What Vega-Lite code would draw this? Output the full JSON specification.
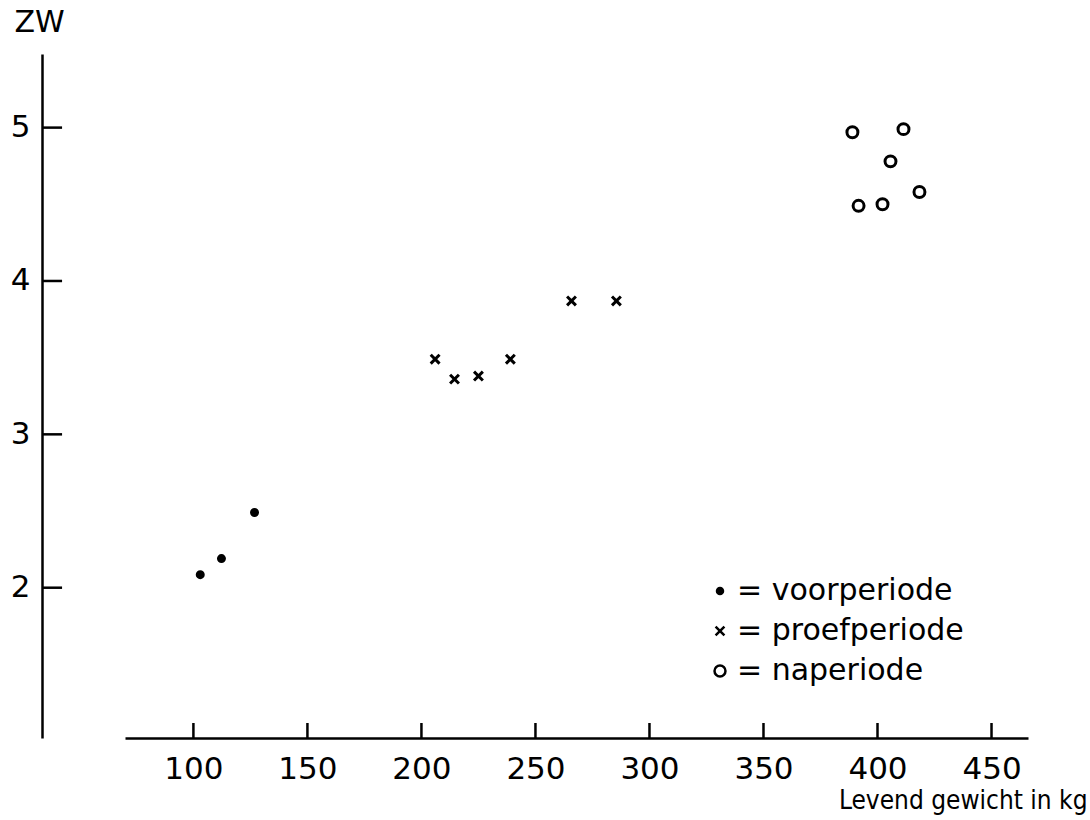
{
  "$schema": "https://vega.github.io/schema/vega-lite/v6.json",
  "width": 903,
  "height": 684,
  "autosize": "none",
  "padding": {"left": 125, "top": 54, "right": 62, "bottom": 82},
  "background": "white",
  "config": {
    "view": {"stroke": null},
    "font": "DejaVu Sans",
    "axis": {"grid": false, "ticks": false, "domainColor": "black", "domainWidth": 2.5, "labelColor": "black", "titleColor": "black", "labelFont": "DejaVu Sans", "titleFont": "DejaVu Sans", "labelFontSize": 31, "titleFontSize": 26, "titleFontWeight": "normal"}
  },
  "layer": [
    {
      "data": {"values": [
        {"gewicht": 103, "zw": 2.085, "periode": "voorperiode"},
        {"gewicht": 112.3, "zw": 2.19, "periode": "voorperiode"},
        {"gewicht": 126.8, "zw": 2.49, "periode": "voorperiode"},
        {"gewicht": 206, "zw": 3.49, "periode": "proefperiode"},
        {"gewicht": 214.5, "zw": 3.36, "periode": "proefperiode"},
        {"gewicht": 225, "zw": 3.38, "periode": "proefperiode"},
        {"gewicht": 239, "zw": 3.49, "periode": "proefperiode"},
        {"gewicht": 265.8, "zw": 3.87, "periode": "proefperiode"},
        {"gewicht": 285.5, "zw": 3.87, "periode": "proefperiode"},
        {"gewicht": 389, "zw": 4.97, "periode": "naperiode"},
        {"gewicht": 411.4, "zw": 4.99, "periode": "naperiode"},
        {"gewicht": 405.7, "zw": 4.78, "periode": "naperiode"},
        {"gewicht": 418.4, "zw": 4.58, "periode": "naperiode"},
        {"gewicht": 391.7, "zw": 4.49, "periode": "naperiode"},
        {"gewicht": 402.2, "zw": 4.5, "periode": "naperiode"}
      ]},
      "mark": {"type": "point", "stroke": "black", "strokeWidth": 3, "opacity": 1},
      "encoding": {
        "x": {
          "field": "gewicht", "type": "quantitative",
          "scale": {"domain": [70, 466], "nice": false, "zero": false},
          "axis": {"values": [100, 150, 200, 250, 300, 350, 400, 450], "format": "d", "labelPadding": 16, "title": "Levend gewicht in kg", "titleFont": "DejaVu Sans Condensed", "titleAnchor": null, "titleX": 962, "titleY": 62, "titleAlign": "right", "titleBaseline": "middle"}
        },
        "y": {
          "field": "zw", "type": "quantitative",
          "scale": {"domain": [1.02, 5.48], "nice": false, "zero": false},
          "axis": {"values": [2, 3, 4, 5], "format": "d", "offset": 83, "labelPadding": 12, "title": "ZW", "titleFontSize": 30, "titleAngle": 0, "titleAnchor": null, "titleX": -3, "titleY": -32, "titleAlign": "center", "titleBaseline": "middle"}
        },
        "shape": {
          "field": "periode", "type": "nominal",
          "scale": {"domain": ["voorperiode", "proefperiode", "naperiode"], "range": ["circle", "M-1,-1L1,1M1,-1L-1,1", "circle"]},
          "legend": {"title": null, "orient": "none", "legendX": 580, "legendY": 522, "labelExpr": "'= ' + datum.label", "labelFontSize": 30, "labelFont": "DejaVu Sans", "labelColor": "black", "labelLimit": 500, "rowPadding": 10, "labelOffset": 2, "symbolStrokeWidth": 2.5, "symbolStrokeColor": "black"}
        },
        "fill": {
          "field": "periode", "type": "nominal",
          "scale": {"domain": ["voorperiode", "proefperiode", "naperiode"], "range": ["black", "transparent", "transparent"]}
        },
        "size": {
          "field": "periode", "type": "nominal",
          "scale": {"domain": ["voorperiode", "proefperiode", "naperiode"], "range": [36, 120, 120]}
        }
      }
    },
    {
      "data": {"values": [{"v": 100}, {"v": 150}, {"v": 200}, {"v": 250}, {"v": 300}, {"v": 350}, {"v": 400}, {"v": 450}]},
      "mark": {"type": "rule", "color": "black", "strokeWidth": 2.5},
      "encoding": {
        "x": {"field": "v", "type": "quantitative"},
        "y": {"datum": 1.02, "type": "quantitative"},
        "y2": {"datum": 1.118}
      }
    },
    {
      "data": {"values": [{"v": 2}, {"v": 3}, {"v": 4}, {"v": 5}]},
      "mark": {"type": "rule", "color": "black", "strokeWidth": 2.5},
      "encoding": {
        "y": {"field": "v", "type": "quantitative"},
        "x": {"datum": 33.6, "type": "quantitative"},
        "x2": {"datum": 42.4}
      }
    }
  ]
}
